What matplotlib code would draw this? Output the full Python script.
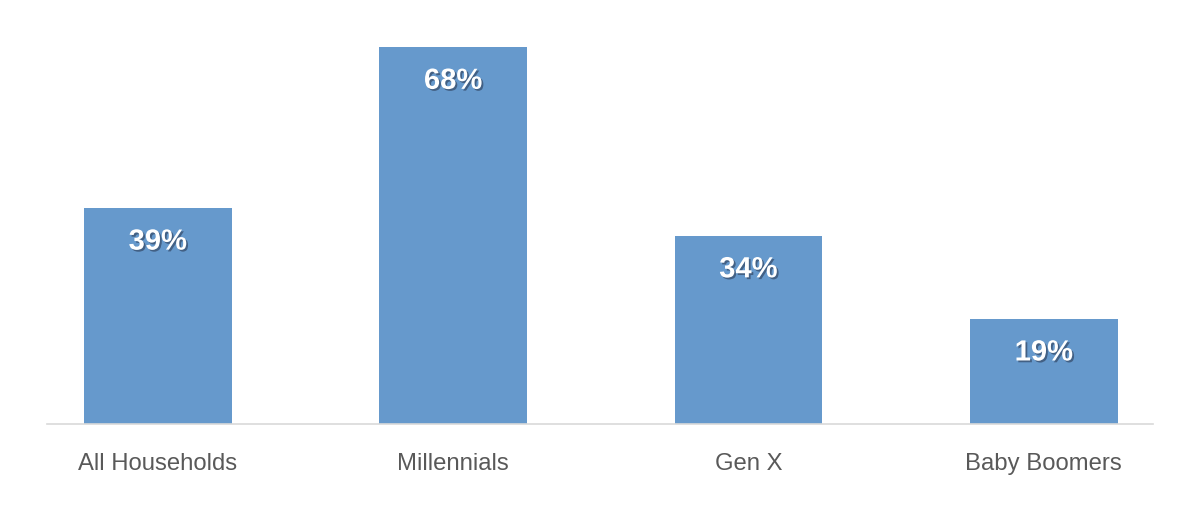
import matplotlib
matplotlib.use("Agg")
import matplotlib.pyplot as plt
import matplotlib.patheffects as pe

categories = ["All Households", "Millennials", "Gen X", "Baby Boomers"]
shares = [39, 68, 34, 19]

plt.rcParams['font.family'] = ['Liberation Sans Narrow', 'Liberation Sans', 'DejaVu Sans']

fig = plt.figure(figsize=(12, 5.08), dpi=100)
ax_h = 75 * 5.544 / 508
ax = fig.add_axes([47 / 1200, 84 / 508, 1106 / 1200, ax_h])

x = range(len(categories))
bars = ax.bar(x, shares, width=0.5, color="#6699CC")

for b, v in zip(bars, shares):
    t = ax.text(b.get_x() + b.get_width() / 2, v - 6.1, f"{v}%", ha="center", va="center",
                color="white", fontsize=21, fontweight="bold")
    t.set_path_effects([pe.SimplePatchShadow(offset=(1.3, -1.3), shadow_rgbFace="#2a3a55", alpha=0.6),
                        pe.Normal()])

ax.set_xlim(-0.375, 3.37)
ax.set_ylim(0, 75)
ax.set_xticks(list(x))
ax.set_xticklabels(categories, fontsize=17.2, color="#595959")
ax.tick_params(axis="x", length=0, pad=21)
ax.set_yticks([])
for s in ["top", "left", "right"]:
    ax.spines[s].set_visible(False)
ax.spines["bottom"].set_color("#D9D9D9")
ax.spines["bottom"].set_linewidth(1.2)

fig.savefig("out.png", dpi=100)
